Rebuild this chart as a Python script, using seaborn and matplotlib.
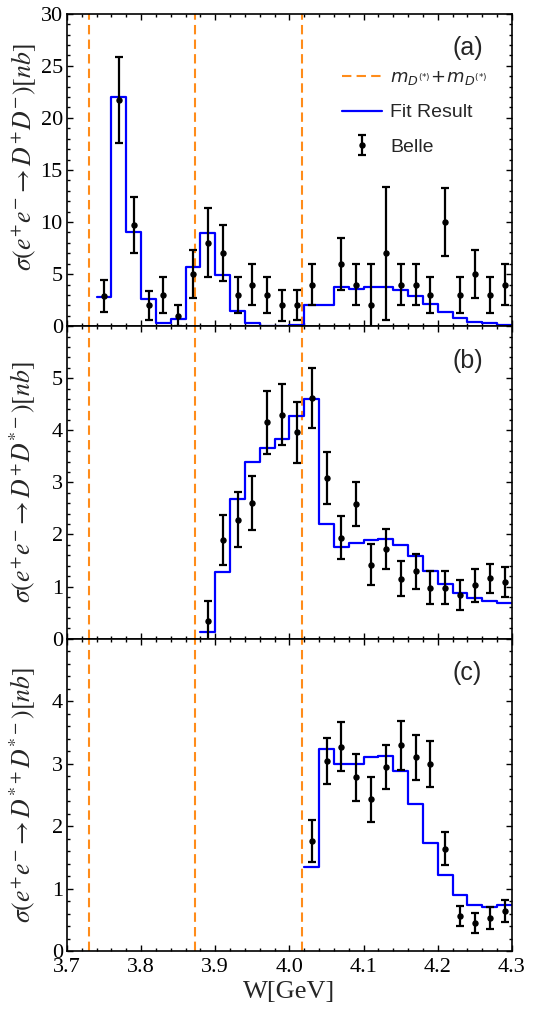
import numpy as np
import matplotlib
matplotlib.use("Agg")
import matplotlib.pyplot as plt
from matplotlib.ticker import MultipleLocator, FormatStrFormatter
from matplotlib.font_manager import FontProperties
from matplotlib.lines import Line2D
import seaborn as sns

# threshold lines m_D(*) + m_D(*)
thresholds = [3.730, 3.872, 4.017]

# (a) e+e- -> D+D-
a_x = [3.75, 3.77, 3.79, 3.81, 3.83, 3.85, 3.87, 3.89, 3.91, 3.93, 3.95, 3.97, 3.99, 4.01,
       4.03, 4.07, 4.09, 4.11, 4.13, 4.15, 4.17, 4.19, 4.21, 4.23, 4.25, 4.27, 4.29]
a_y = [2.9, 21.7, 9.7, 2.0, 3.0, 1.0, 5.0, 8.0, 7.0, 3.0, 4.0, 3.0, 2.0, 2.0,
       4.0, 6.0, 4.0, 2.0, 7.0, 4.0, 4.0, 3.0, 10.0, 3.0, 5.0, 3.0, 4.0]
a_err = [1.55, 4.1, 2.7, 1.4, 1.75, 1.0, 2.3, 3.3, 2.7, 1.7, 2.0, 1.75, 1.5, 1.45,
         2.0, 2.5, 2.0, 4.0, 6.4, 2.0, 2.0, 1.75, 3.25, 1.75, 2.3, 1.75, 2.0]
a_bins = [3.75, 3.77, 3.79, 3.81, 3.83, 3.85, 3.87, 3.89, 3.91, 3.93, 3.95, 3.97, 3.99, 4.01,
          4.03, 4.05, 4.07, 4.09, 4.11, 4.13, 4.15, 4.17, 4.19, 4.21, 4.23, 4.25, 4.27, 4.29]
a_fit = [2.8, 22.0, 9.0, 2.6, 0.32, 0.65, 5.7, 8.9, 4.9, 1.5, 0.26, 0.05, 0.05, 0.1,
         2.0, 2.0, 3.75, 3.6, 3.8, 3.8, 3.5, 2.9, 2.1, 1.35, 0.8, 0.4, 0.26, 0.15]

# (b) e+e- -> D+D*-
b_x = [3.89, 3.91, 3.93, 3.95, 3.97, 3.99, 4.01, 4.03, 4.05, 4.07, 4.09, 4.11, 4.13, 4.15,
       4.17, 4.19, 4.21, 4.23, 4.25, 4.27, 4.29]
b_y = [0.34, 1.90, 2.28, 2.61, 4.15, 4.30, 3.96, 4.62, 3.08, 1.94, 2.59, 1.42, 1.72, 1.15,
       1.29, 0.98, 0.98, 0.84, 1.02, 1.16, 1.08]
b_err = [0.38, 0.48, 0.53, 0.52, 0.60, 0.58, 0.59, 0.57, 0.50, 0.41, 0.42, 0.40, 0.39, 0.34,
         0.34, 0.31, 0.31, 0.29, 0.31, 0.28, 0.29]
b_fit = [0.12, 1.27, 2.69, 3.40, 3.66, 3.83, 4.27, 4.61, 2.21, 1.76, 1.83, 1.90, 1.91, 1.80,
         1.58, 1.30, 1.05, 0.87, 0.77, 0.72, 0.69]

# (c) e+e- -> D*+D*-
c_x = [4.03, 4.05, 4.07, 4.09, 4.11, 4.13, 4.15, 4.17, 4.19, 4.21, 4.23, 4.25, 4.27, 4.29]
c_y = [1.76, 3.04, 3.27, 2.78, 2.43, 2.95, 3.29, 3.10, 2.99, 1.64, 0.56, 0.45, 0.53, 0.64]
c_err = [0.33, 0.37, 0.39, 0.38, 0.36, 0.35, 0.39, 0.36, 0.37, 0.27, 0.16, 0.16, 0.17, 0.18]
c_fit = [1.34, 3.24, 3.00, 3.00, 3.11, 3.12, 2.88, 2.35, 1.73, 1.22, 0.89, 0.74, 0.70, 0.73]

bin_width = 0.02

ylabels = [r"$\sigma(e^{+}e^{-}\rightarrow D^{+}D^{-})[nb]$",
           r"$\sigma(e^{+}e^{-}\rightarrow D^{+}D^{*-})[nb]$",
           r"$\sigma(e^{+}e^{-}\rightarrow D^{*+}D^{*-})[nb]$"]
ylabel_pos = [0.54, 0.5, 0.5]

sns.set_style("ticks")
plt.rcParams["font.family"] = ["Liberation Serif", "DejaVu Serif"]
plt.rcParams["mathtext.fontset"] = "stix"

fig = plt.figure(figsize=(5.4, 10.26), dpi=100)
left, width, h = 0.124, 0.824, 0.3045
bottom = 0.0731
axes = [fig.add_axes([left, bottom + 2 * h, width, h]),
        fig.add_axes([left, bottom + h, width, h]),
        fig.add_axes([left, bottom, width, h])]

panels = [
    (a_x, a_y, a_err, a_bins, a_fit, 30, 5, 1, "(a)"),
    (b_x, b_y, b_err, b_x, b_fit, 6, 1, 0.2, "(b)"),
    (c_x, c_y, c_err, c_x, c_fit, 5, 1, 0.2, "(c)"),
]

sans = FontProperties(family="Liberation Sans", size=14, math_fontfamily="dejavusans")

for i, (ax, (px, py, perr, fx, fy, ytop, ymaj, ymin, tag)) in enumerate(zip(axes, panels)):
    centers = np.asarray(fx)
    edges = np.append(centers - bin_width / 2, centers[-1] + bin_width / 2)
    steps = np.append(fy, fy[-1])

    for t in thresholds:
        ax.axvline(t, color="#ff8c1a", lw=1.5, ls=(0, (4.5, 2.5)), zorder=1)

    sns.lineplot(x=edges, y=steps, drawstyle="steps-post", color="#0000ff", lw=1.6,
                 estimator=None, sort=False, ax=ax, zorder=2)

    ax.errorbar(px, py, yerr=perr, fmt="o", color="black", ms=3.6, elinewidth=1.6,
                capsize=2.6, capthick=1.6, zorder=3)

    ax.set_xlim(3.7, 4.3)
    ax.set_ylim(0, ytop)
    ax.xaxis.set_major_locator(MultipleLocator(0.1))
    ax.xaxis.set_minor_locator(MultipleLocator(0.02))
    ax.yaxis.set_major_locator(MultipleLocator(ymaj))
    ax.yaxis.set_minor_locator(MultipleLocator(ymin))
    ax.tick_params(which="both", direction="in", top=True, right=True, width=1.0,
                   labelsize=16, colors="black", pad=3)
    ax.tick_params(axis="x", pad=5)
    ax.tick_params(which="major", length=4.5)
    ax.tick_params(which="minor", length=2.3)
    for s in ax.spines.values():
        s.set_linewidth(1.2)
        s.set_color("black")

    yt = np.arange(0, ytop + ymaj / 2, ymaj)
    ax.set_yticks(yt)
    ax.set_yticklabels([f"{v:g}" if (i == 0 or v < ytop) else "" for v in yt])

    ax.set_ylabel(ylabels[i], fontsize=18.5)
    ax.yaxis.set_label_coords(-0.066, ylabel_pos[i])
    ax.text(0.90, 0.89, tag, transform=ax.transAxes, ha="center", va="center",
            fontsize=18, family="Liberation Sans")

    if i < 2:
        ax.tick_params(labelbottom=False)
        ax.set_xlabel("")
    else:
        ax.xaxis.set_major_formatter(FormatStrFormatter("%.1f"))
        ax.set_xlabel("W[GeV]", fontsize=19, labelpad=3)

handles = [
    Line2D([], [], color="#ff8c1a", lw=1.5, ls=(0, (4.5, 2.5))),
    Line2D([], [], color="#0000ff", lw=1.6),
    axes[0].containers[0],
]
labels = [r"$m_{D^{(*)}}\!+\!m_{D^{(*)}}$", "Fit Result", "Belle"]
leg = axes[0].legend(handles, labels, loc="upper left", bbox_to_anchor=(0.578, 0.88),
                     frameon=False, prop=sans, handlelength=2.1, handletextpad=0.4,
                     labelspacing=0.85)
leg.get_texts()[0].set_fontsize(13)

fig.savefig("out.png", dpi=100)
